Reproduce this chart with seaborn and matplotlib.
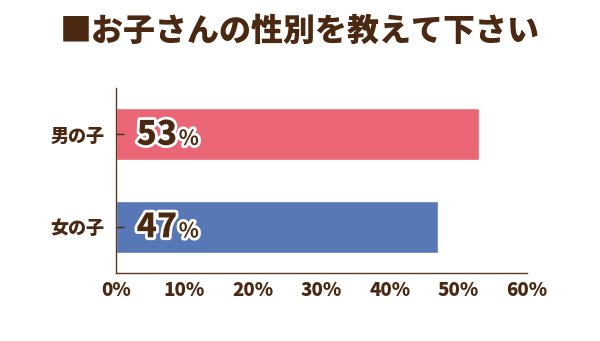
import matplotlib
matplotlib.use("Agg")
import matplotlib.pyplot as plt
import matplotlib.patheffects as pe
import seaborn as sns
import pandas as pd

# data
categories = ["男の子", "女の子"]
percents = [53, 47]
bar_colors = ["#EA6676", "#5777B6"]
x_ticks = [0, 10, 20, 30, 40, 50, 60]
title = "■お子さんの性別を教えて下さい"

BROWN = "#4A2811"

sns.set_theme(style="white")
plt.rcParams["font.family"] = ["Noto Sans CJK JP", "DejaVu Sans"]

df = pd.DataFrame({"category": categories, "percent": percents})

fig = plt.figure(figsize=(6, 3.41), dpi=100)
ax = fig.add_axes([0.193, 0.199, 0.685, 0.543])

sns.barplot(data=df, x="percent", y="category", hue="category",
            palette=bar_colors, orient="h", width=0.56, legend=False,
            saturation=1, ax=ax)

ax.set_xlim(0, 60)
ax.set_ylim(1.5, -0.5)
ax.set_xticks(x_ticks)
ax.set_xticklabels([f"{t}%" for t in x_ticks], fontsize=13.5,
                   fontweight=900, color=BROWN)
ax.set_yticks(range(len(categories)))
ax.set_yticklabels(categories, fontsize=13, fontweight=900, color=BROWN)
ax.set_xlabel("")
ax.set_ylabel("")
ax.set_axisbelow(False)  # ticks drawn on top of the bars

for side in ["top", "right"]:
    ax.spines[side].set_visible(False)
for side in ["left", "bottom"]:
    ax.spines[side].set_color("#5a3a22")
    ax.spines[side].set_linewidth(1.0)

ax.tick_params(axis="x", direction="in", length=4, width=1,
               color="#5a3a22", pad=6)
ax.tick_params(axis="y", direction="in", length=6, width=1,
               color="#4a2a14", pad=8, left=True)

# value labels: big number + small percent sign, white outline
stroke = [pe.withStroke(linewidth=4, foreground="white")]
for i, v in enumerate(percents):
    t = ax.annotate(str(v), xy=(0, i), xytext=(15, 0),
                    textcoords="offset points", va="center", ha="left",
                    fontsize=24, fontweight=900, color=BROWN,
                    path_effects=stroke, zorder=5)
    ax.annotate("%", xy=(1, 0.5), xycoords=t, xytext=(1, -3),
                textcoords="offset points", va="center", ha="left",
                fontsize=15, fontweight="bold", color=BROWN,
                path_effects=stroke, zorder=5)

fig.text(0.5, 0.91, title, ha="center", va="center", fontsize=23,
         fontweight=900, color=BROWN)

fig.savefig("out.png", dpi=100)
